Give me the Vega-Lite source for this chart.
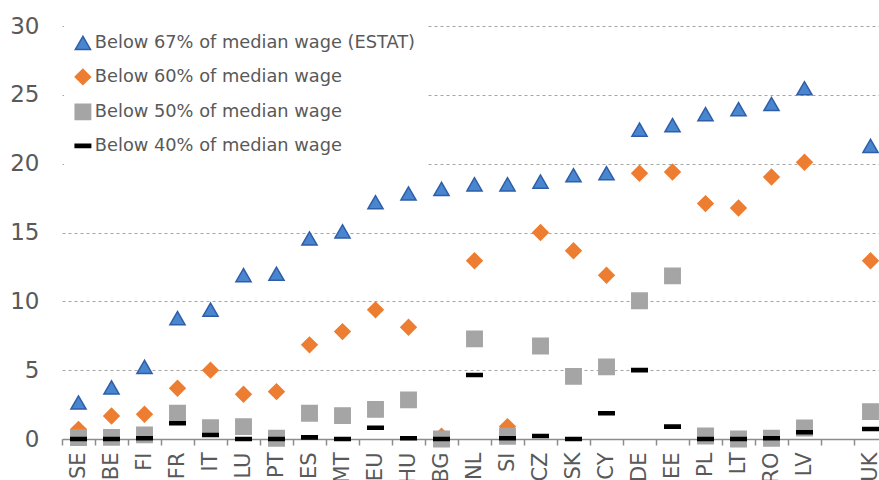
{
  "$schema": "https://vega.github.io/schema/vega-lite/v6.json",
  "autosize": "none",
  "padding": {"left": 62, "top": 26, "right": 0, "bottom": 41},
  "width": 825,
  "height": 413,
  "background": "white",
  "config": {
    "view": {"stroke": null},
    "font": "DejaVu Sans"
  },
  "data": {
    "values": [
      {"c": "SE", "s": "Below 67% of median wage (ESTAT)", "v": 2.65},
      {"c": "BE", "s": "Below 67% of median wage (ESTAT)", "v": 3.75},
      {"c": "FI", "s": "Below 67% of median wage (ESTAT)", "v": 5.24},
      {"c": "FR", "s": "Below 67% of median wage (ESTAT)", "v": 8.78},
      {"c": "IT", "s": "Below 67% of median wage (ESTAT)", "v": 9.4},
      {"c": "LU", "s": "Below 67% of median wage (ESTAT)", "v": 11.9},
      {"c": "PT", "s": "Below 67% of median wage (ESTAT)", "v": 12.0},
      {"c": "ES", "s": "Below 67% of median wage (ESTAT)", "v": 14.56},
      {"c": "MT", "s": "Below 67% of median wage (ESTAT)", "v": 15.08},
      {"c": "EU", "s": "Below 67% of median wage (ESTAT)", "v": 17.2},
      {"c": "HU", "s": "Below 67% of median wage (ESTAT)", "v": 17.83},
      {"c": "BG", "s": "Below 67% of median wage (ESTAT)", "v": 18.17},
      {"c": "NL", "s": "Below 67% of median wage (ESTAT)", "v": 18.5},
      {"c": "SI", "s": "Below 67% of median wage (ESTAT)", "v": 18.5},
      {"c": "CZ", "s": "Below 67% of median wage (ESTAT)", "v": 18.7},
      {"c": "SK", "s": "Below 67% of median wage (ESTAT)", "v": 19.16},
      {"c": "CY", "s": "Below 67% of median wage (ESTAT)", "v": 19.3},
      {"c": "DE", "s": "Below 67% of median wage (ESTAT)", "v": 22.47},
      {"c": "EE", "s": "Below 67% of median wage (ESTAT)", "v": 22.8},
      {"c": "PL", "s": "Below 67% of median wage (ESTAT)", "v": 23.6},
      {"c": "LT", "s": "Below 67% of median wage (ESTAT)", "v": 23.96},
      {"c": "RO", "s": "Below 67% of median wage (ESTAT)", "v": 24.33},
      {"c": "LV", "s": "Below 67% of median wage (ESTAT)", "v": 25.48},
      {"c": "UK", "s": "Below 67% of median wage (ESTAT)", "v": 21.29},

      {"c": "SE", "s": "Below 60% of median wage", "v": 0.7},
      {"c": "BE", "s": "Below 60% of median wage", "v": 1.67},
      {"c": "FI", "s": "Below 60% of median wage", "v": 1.8},
      {"c": "FR", "s": "Below 60% of median wage", "v": 3.69},
      {"c": "IT", "s": "Below 60% of median wage", "v": 5.0},
      {"c": "LU", "s": "Below 60% of median wage", "v": 3.25},
      {"c": "PT", "s": "Below 60% of median wage", "v": 3.44},
      {"c": "ES", "s": "Below 60% of median wage", "v": 6.84},
      {"c": "MT", "s": "Below 60% of median wage", "v": 7.8},
      {"c": "EU", "s": "Below 60% of median wage", "v": 9.38},
      {"c": "HU", "s": "Below 60% of median wage", "v": 8.12},
      {"c": "BG", "s": "Below 60% of median wage", "v": 0.2},
      {"c": "NL", "s": "Below 60% of median wage", "v": 12.95},
      {"c": "SI", "s": "Below 60% of median wage", "v": 0.9},
      {"c": "CZ", "s": "Below 60% of median wage", "v": 15.0},
      {"c": "SK", "s": "Below 60% of median wage", "v": 13.67},
      {"c": "CY", "s": "Below 60% of median wage", "v": 11.9},
      {"c": "DE", "s": "Below 60% of median wage", "v": 19.3},
      {"c": "EE", "s": "Below 60% of median wage", "v": 19.4},
      {"c": "PL", "s": "Below 60% of median wage", "v": 17.1},
      {"c": "LT", "s": "Below 60% of median wage", "v": 16.78},
      {"c": "RO", "s": "Below 60% of median wage", "v": 19.03},
      {"c": "LV", "s": "Below 60% of median wage", "v": 20.1},
      {"c": "UK", "s": "Below 60% of median wage", "v": 12.95},

      {"c": "SE", "s": "Below 50% of median wage", "v": 0.1},
      {"c": "BE", "s": "Below 50% of median wage", "v": 0.12},
      {"c": "FI", "s": "Below 50% of median wage", "v": 0.3},
      {"c": "FR", "s": "Below 50% of median wage", "v": 1.87},
      {"c": "IT", "s": "Below 50% of median wage", "v": 0.82},
      {"c": "LU", "s": "Below 50% of median wage", "v": 0.9},
      {"c": "PT", "s": "Below 50% of median wage", "v": 0.05},
      {"c": "ES", "s": "Below 50% of median wage", "v": 1.87},
      {"c": "MT", "s": "Below 50% of median wage", "v": 1.7},
      {"c": "EU", "s": "Below 50% of median wage", "v": 2.15},
      {"c": "HU", "s": "Below 50% of median wage", "v": 2.84},
      {"c": "BG", "s": "Below 50% of median wage", "v": 0.0},
      {"c": "NL", "s": "Below 50% of median wage", "v": 7.27},
      {"c": "SI", "s": "Below 50% of median wage", "v": 0.2},
      {"c": "CZ", "s": "Below 50% of median wage", "v": 6.76},
      {"c": "SK", "s": "Below 50% of median wage", "v": 4.55},
      {"c": "CY", "s": "Below 50% of median wage", "v": 5.24},
      {"c": "DE", "s": "Below 50% of median wage", "v": 10.04},
      {"c": "EE", "s": "Below 50% of median wage", "v": 11.85},
      {"c": "PL", "s": "Below 50% of median wage", "v": 0.22},
      {"c": "LT", "s": "Below 50% of median wage", "v": 0.0},
      {"c": "RO", "s": "Below 50% of median wage", "v": 0.05},
      {"c": "LV", "s": "Below 50% of median wage", "v": 0.8},
      {"c": "UK", "s": "Below 50% of median wage", "v": 1.99},

      {"c": "SE", "s": "Below 40% of median wage", "v": 0.0},
      {"c": "BE", "s": "Below 40% of median wage", "v": 0.0},
      {"c": "FI", "s": "Below 40% of median wage", "v": 0.05},
      {"c": "FR", "s": "Below 40% of median wage", "v": 1.14},
      {"c": "IT", "s": "Below 40% of median wage", "v": 0.29},
      {"c": "LU", "s": "Below 40% of median wage", "v": 0.0},
      {"c": "PT", "s": "Below 40% of median wage", "v": 0.0},
      {"c": "ES", "s": "Below 40% of median wage", "v": 0.12},
      {"c": "MT", "s": "Below 40% of median wage", "v": 0.0},
      {"c": "EU", "s": "Below 40% of median wage", "v": 0.82},
      {"c": "HU", "s": "Below 40% of median wage", "v": 0.05},
      {"c": "BG", "s": "Below 40% of median wage", "v": 0.0},
      {"c": "NL", "s": "Below 40% of median wage", "v": 4.65},
      {"c": "SI", "s": "Below 40% of median wage", "v": 0.05},
      {"c": "CZ", "s": "Below 40% of median wage", "v": 0.22},
      {"c": "SK", "s": "Below 40% of median wage", "v": 0.0},
      {"c": "CY", "s": "Below 40% of median wage", "v": 1.87},
      {"c": "DE", "s": "Below 40% of median wage", "v": 5.0},
      {"c": "EE", "s": "Below 40% of median wage", "v": 0.9},
      {"c": "PL", "s": "Below 40% of median wage", "v": 0.0},
      {"c": "LT", "s": "Below 40% of median wage", "v": 0.0},
      {"c": "RO", "s": "Below 40% of median wage", "v": 0.05},
      {"c": "LV", "s": "Below 40% of median wage", "v": 0.49},
      {"c": "UK", "s": "Below 40% of median wage", "v": 0.73}
    ]
  },
  "mark": {"type": "point", "filled": true, "opacity": 1, "strokeWidth": 1.5, "clip": false},
  "encoding": {
    "x": {
      "field": "c",
      "type": "nominal",
      "sort": null,
      "scale": {
        "type": "band",
        "domain": ["SE", "BE", "FI", "FR", "IT", "LU", "PT", "ES", "MT", "EU", "HU", "BG", "NL", "SI", "CZ", "SK", "CY", "DE", "EE", "PL", "LT", "RO", "LV", " ", "UK"],
        "paddingInner": 0,
        "paddingOuter": 0
      },
      "axis": {
        "title": null,
        "tickBand": "extent",
        "labelAngle": -90,
        "labelAlign": "right",
        "labelBaseline": "middle",
        "labelFontSize": 21,
        "labelColor": "#595959",
        "labelPadding": 7,
        "labelFont": "DejaVu Sans",
        "domainColor": "#8C8C8C",
        "domainWidth": 1.5,
        "tickColor": "#8C8C8C",
        "tickWidth": 1.5,
        "tickSize": 6,
        "grid": false,
        "zindex": 0
      }
    },
    "y": {
      "field": "v",
      "type": "quantitative",
      "scale": {"domain": [0, 30], "nice": false, "zero": true},
      "axis": {
        "title": null,
        "values": [0, 5, 10, 15, 20, 25, 30],
        "domain": false,
        "ticks": false,
        "labelFontSize": 23,
        "labelColor": "#595959",
        "labelPadding": 23,
        "labelFont": "DejaVu Sans",
        "grid": true,
        "gridColor": "#A6A6A6",
        "gridDash": [3, 3],
        "gridWidth": 1
      }
    },
    "color": {
      "field": "s",
      "type": "nominal",
      "scale": {
        "domain": ["Below 67% of median wage (ESTAT)", "Below 60% of median wage", "Below 50% of median wage", "Below 40% of median wage"],
        "range": ["#4A86CF", "#ED7D31", "#A5A5A5", "#000000"]
      },
      "legend": {
        "title": null,
        "orient": "none",
        "legendX": 2,
        "legendY": -2,
        "padding": 10,
        "fillColor": "white",
        "strokeColor": null,
        "labelFontSize": 17.8,
        "labelColor": "#595959",
        "labelFont": "DejaVu Sans",
        "labelOffset": 3,
        "symbolSize": 185,
        "rowPadding": 13,
        "labelLimit": 400,
        "zindex": 1
      }
    },
    "stroke": {
      "field": "s",
      "type": "nominal",
      "scale": {
        "domain": ["Below 67% of median wage (ESTAT)", "Below 60% of median wage", "Below 50% of median wage", "Below 40% of median wage"],
        "range": ["#2E5EA8", "#ED7D31", "#A5A5A5", "#000000"]
      }
    },
    "shape": {
      "field": "s",
      "type": "nominal",
      "scale": {
        "domain": ["Below 67% of median wage (ESTAT)", "Below 60% of median wage", "Below 50% of median wage", "Below 40% of median wage"],
        "range": ["triangle-up", "diamond", "square", "M-1,-0.2H1V0.2H-1Z"]
      }
    },
    "size": {
      "field": "s",
      "type": "nominal",
      "scale": {
        "domain": ["Below 67% of median wage (ESTAT)", "Below 60% of median wage", "Below 50% of median wage", "Below 40% of median wage"],
        "range": [230, 240, 270, 320]
      },
      "legend": null
    }
  }
}
